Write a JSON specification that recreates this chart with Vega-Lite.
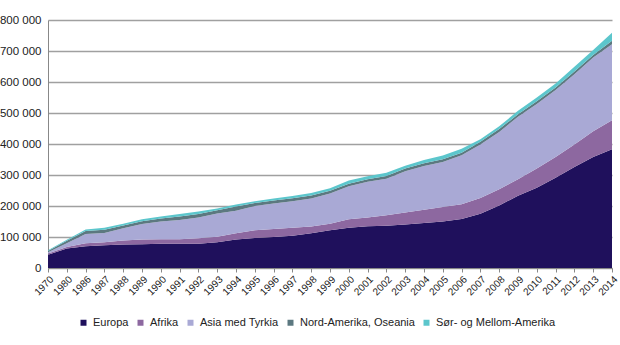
{
  "$schema": "https://vega.github.io/schema/vega-lite/v6.json",
  "width": 564,
  "height": 248,
  "autosize": "none",
  "padding": {"left": 48, "top": 20, "right": 8, "bottom": 77},
  "background": "white",
  "config": {
    "view": {"stroke": null},
    "font": "Liberation Sans"
  },
  "datasets": {
    "regionorder": [
      {"region": "Europa", "rank": 1},
      {"region": "Afrika", "rank": 2},
      {"region": "Asia med Tyrkia", "rank": 3},
      {"region": "Nord-Amerika, Oseania", "rank": 4},
      {"region": "Sør- og Mellom-Amerika", "rank": 5}
    ]
  },
  "data": {
    "values": [
      {"year": "1970", "Europa": 43000, "Afrika": 4000, "Asia med Tyrkia": 4000, "Nord-Amerika, Oseania": 4000, "Sør- og Mellom-Amerika": 2000},
      {"year": "1980", "Europa": 63000, "Afrika": 5000, "Asia med Tyrkia": 12000, "Nord-Amerika, Oseania": 8000, "Sør- og Mellom-Amerika": 3000},
      {"year": "1986", "Europa": 70000, "Afrika": 10000, "Asia med Tyrkia": 30000, "Nord-Amerika, Oseania": 9000, "Sør- og Mellom-Amerika": 5000},
      {"year": "1987", "Europa": 73000, "Afrika": 10000, "Asia med Tyrkia": 30000, "Nord-Amerika, Oseania": 10000, "Sør- og Mellom-Amerika": 7000},
      {"year": "1988", "Europa": 76000, "Afrika": 13000, "Asia med Tyrkia": 39000, "Nord-Amerika, Oseania": 9000, "Sør- og Mellom-Amerika": 6000},
      {"year": "1989", "Europa": 77000, "Afrika": 15000, "Asia med Tyrkia": 50000, "Nord-Amerika, Oseania": 9000, "Sør- og Mellom-Amerika": 6000},
      {"year": "1990", "Europa": 78000, "Afrika": 15000, "Asia med Tyrkia": 57000, "Nord-Amerika, Oseania": 10000, "Sør- og Mellom-Amerika": 6000},
      {"year": "1991", "Europa": 78000, "Afrika": 15000, "Asia med Tyrkia": 62000, "Nord-Amerika, Oseania": 11000, "Sør- og Mellom-Amerika": 8000},
      {"year": "1992", "Europa": 78000, "Afrika": 18000, "Asia med Tyrkia": 67000, "Nord-Amerika, Oseania": 11000, "Sør- og Mellom-Amerika": 8000},
      {"year": "1993", "Europa": 83000, "Afrika": 18000, "Asia med Tyrkia": 75000, "Nord-Amerika, Oseania": 10000, "Sør- og Mellom-Amerika": 6000},
      {"year": "1994", "Europa": 92000, "Afrika": 20000, "Asia med Tyrkia": 73000, "Nord-Amerika, Oseania": 13000, "Sør- og Mellom-Amerika": 7000},
      {"year": "1995", "Europa": 97000, "Afrika": 25000, "Asia med Tyrkia": 78000, "Nord-Amerika, Oseania": 10000, "Sør- og Mellom-Amerika": 5000},
      {"year": "1996", "Europa": 100000, "Afrika": 26000, "Asia med Tyrkia": 82000, "Nord-Amerika, Oseania": 10000, "Sør- og Mellom-Amerika": 6000},
      {"year": "1997", "Europa": 104000, "Afrika": 26000, "Asia med Tyrkia": 85000, "Nord-Amerika, Oseania": 10000, "Sør- og Mellom-Amerika": 7000},
      {"year": "1998", "Europa": 112000, "Afrika": 22000, "Asia med Tyrkia": 90000, "Nord-Amerika, Oseania": 10000, "Sør- og Mellom-Amerika": 8000},
      {"year": "1999", "Europa": 122000, "Afrika": 21000, "Asia med Tyrkia": 97000, "Nord-Amerika, Oseania": 9000, "Sør- og Mellom-Amerika": 8000},
      {"year": "2000", "Europa": 130000, "Afrika": 27000, "Asia med Tyrkia": 107000, "Nord-Amerika, Oseania": 8000, "Sør- og Mellom-Amerika": 10000},
      {"year": "2001", "Europa": 135000, "Afrika": 28000, "Asia med Tyrkia": 115000, "Nord-Amerika, Oseania": 8000, "Sør- og Mellom-Amerika": 10000},
      {"year": "2002", "Europa": 136000, "Afrika": 34000, "Asia med Tyrkia": 118000, "Nord-Amerika, Oseania": 9000, "Sør- og Mellom-Amerika": 10000},
      {"year": "2003", "Europa": 140000, "Afrika": 39000, "Asia med Tyrkia": 133000, "Nord-Amerika, Oseania": 9000, "Sør- og Mellom-Amerika": 9000},
      {"year": "2004", "Europa": 145000, "Afrika": 43000, "Asia med Tyrkia": 141000, "Nord-Amerika, Oseania": 9000, "Sør- og Mellom-Amerika": 10000},
      {"year": "2005", "Europa": 150000, "Afrika": 47000, "Asia med Tyrkia": 145000, "Nord-Amerika, Oseania": 9000, "Sør- og Mellom-Amerika": 12000},
      {"year": "2006", "Europa": 158000, "Afrika": 48000, "Asia med Tyrkia": 158000, "Nord-Amerika, Oseania": 8000, "Sør- og Mellom-Amerika": 13000},
      {"year": "2007", "Europa": 175000, "Afrika": 51000, "Asia med Tyrkia": 172000, "Nord-Amerika, Oseania": 9000, "Sør- og Mellom-Amerika": 8000},
      {"year": "2008", "Europa": 202000, "Afrika": 52000, "Asia med Tyrkia": 185000, "Nord-Amerika, Oseania": 9000, "Sør- og Mellom-Amerika": 9000},
      {"year": "2009", "Europa": 233000, "Afrika": 53000, "Asia med Tyrkia": 202000, "Nord-Amerika, Oseania": 8000, "Sør- og Mellom-Amerika": 11000},
      {"year": "2010", "Europa": 259000, "Afrika": 62000, "Asia med Tyrkia": 208000, "Nord-Amerika, Oseania": 9000, "Sør- og Mellom-Amerika": 12000},
      {"year": "2011", "Europa": 291000, "Afrika": 67000, "Asia med Tyrkia": 216000, "Nord-Amerika, Oseania": 8000, "Sør- og Mellom-Amerika": 13000},
      {"year": "2012", "Europa": 326000, "Afrika": 72000, "Asia med Tyrkia": 227000, "Nord-Amerika, Oseania": 9000, "Sør- og Mellom-Amerika": 15000},
      {"year": "2013", "Europa": 358000, "Afrika": 83000, "Asia med Tyrkia": 238000, "Nord-Amerika, Oseania": 8000, "Sør- og Mellom-Amerika": 16000},
      {"year": "2014", "Europa": 383000, "Afrika": 94000, "Asia med Tyrkia": 245000, "Nord-Amerika, Oseania": 11000, "Sør- og Mellom-Amerika": 26000}
    ]
  },
  "transform": [
    {"fold": ["Europa", "Afrika", "Asia med Tyrkia", "Nord-Amerika, Oseania", "Sør- og Mellom-Amerika"], "as": ["region", "value"]},
    {"lookup": "region", "from": {"data": {"name": "regionorder"}, "key": "region", "fields": ["rank"]}}
  ],
  "mark": {"type": "area"},
  "encoding": {
    "x": {
      "field": "year",
      "type": "ordinal",
      "scale": {"type": "point", "padding": 0},
      "axis": {
        "title": null,
        "labelAngle": -45,
        "labelFontSize": 10,
        "labelColor": "#222222",
        "labelPadding": 2,
        "tickColor": "#888888",
        "tickSize": 4,
        "domainColor": "#888888",
        "grid": false
      }
    },
    "y": {
      "field": "value",
      "type": "quantitative",
      "stack": "zero",
      "scale": {"domain": [0, 800000], "nice": false},
      "axis": {
        "title": null,
        "values": [0, 100000, 200000, 300000, 400000, 500000, 600000, 700000, 800000],
        "labelExpr": "replace(format(datum.value, ','), regexp(',', 'g'), ' ')",
        "labelFontSize": 11.5,
        "labelColor": "#222222",
        "labelPadding": 7,
        "ticks": false,
        "domainColor": "#888888",
        "gridColor": "#a0a0a0",
        "gridWidth": 1.5
      }
    },
    "color": {
      "field": "region",
      "type": "nominal",
      "sort": ["Europa", "Afrika", "Asia med Tyrkia", "Nord-Amerika, Oseania", "Sør- og Mellom-Amerika"],
      "scale": {
        "domain": ["Europa", "Afrika", "Asia med Tyrkia", "Nord-Amerika, Oseania", "Sør- og Mellom-Amerika"],
        "range": ["#1f105c", "#8d68a0", "#a9a9d5", "#5c7880", "#5cc6cc"]
      },
      "legend": {
        "title": null,
        "orient": "none",
        "direction": "horizontal",
        "legendX": 30,
        "legendY": 297,
        "symbolType": "square",
        "symbolSize": 36,
        "symbolStrokeWidth": 0,
        "labelFontSize": 11,
        "labelColor": "#222222",
        "symbolOffset": 0,
        "labelOffset": 4,
        "columnPadding": 6
      }
    },
    "order": {"field": "rank", "type": "quantitative", "sort": "ascending"}
  }
}
